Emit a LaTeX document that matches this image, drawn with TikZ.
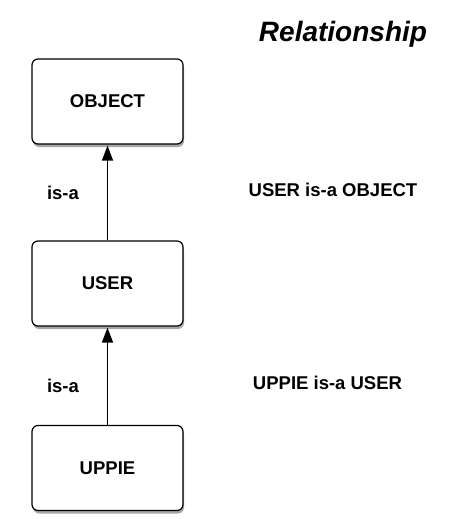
\documentclass[tikz,border=0pt]{standalone}
\usepackage{fontspec}
\setmainfont{Liberation Sans}
\usetikzlibrary{shadows,arrows.meta}
\tikzset{
  classbox/.style={draw=black, line width=1.2pt, rounded corners=6pt, fill=white,
    minimum width=151pt, minimum height=85pt, inner sep=0pt,
    font=\fontsize{18.5}{22}\selectfont\bfseries,
    drop shadow={shadow xshift=1pt, shadow yshift=-3pt, opacity=0.35, fill=black}},
  lbl/.style={font=\fontsize{18.5}{22}\selectfont\bfseries, inner sep=0pt},
  isa/.style={line width=1.3pt, -{Triangle[length=15pt,width=11pt]}, shorten >=1pt}
}
\begin{document}
\begin{tikzpicture}[x=1pt,y=1pt]
\useasboundingbox (0,0) rectangle (452,-519);
\node[classbox] (object) at (107.5,-101.5) {OBJECT};
\node[classbox] (user) at (107.5,-283.5) {USER};
\node[classbox] (uppie) at (107.5,-468) {UPPIE};
\draw[isa] (user) -- (object);
\draw[isa] (uppie) -- (user);
\node[lbl] (isa1) at (63,-193) {is-a};
\node[lbl] (isa2) at (63,-386) {is-a};
\node[lbl] (rel1) at (333,-190) {USER is-a OBJECT};
\node[lbl] (rel2) at (327.5,-383) {UPPIE is-a USER};
\node[inner sep=0pt, font=\fontsize{28}{32}\selectfont\bfseries\itshape] (title) at (343,-34) {Relationship};
\end{tikzpicture}
\end{document}
